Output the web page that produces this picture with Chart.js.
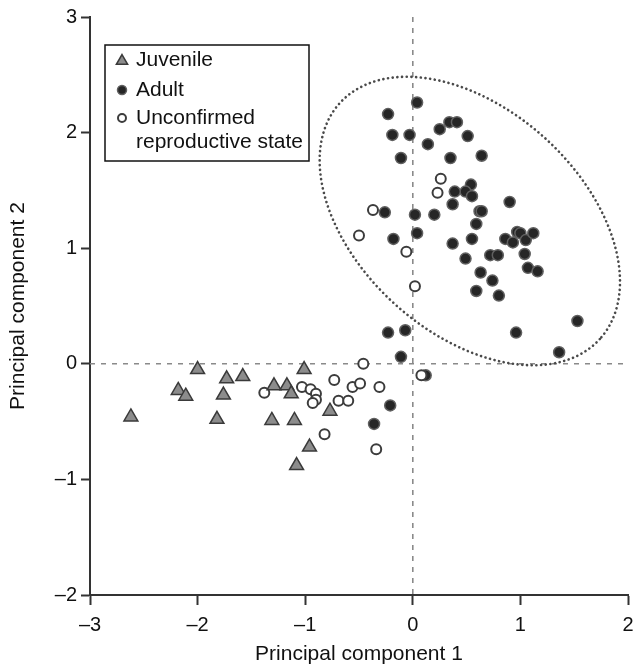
<!DOCTYPE html>
<html>
<head>
<meta charset="utf-8">
<script src="https://cdn.jsdelivr.net/npm/chart.js@4.4.1/dist/chart.umd.min.js"></script>
<style>
  html, body { margin: 0; padding: 0; background: #fff; }
  #wrap { width: 640px; height: 667px; }
</style>
</head>
<body>
<div id="wrap"><canvas id="pca-chart" width="640" height="667"></canvas></div>
<script>
(function () {
  'use strict';

  // scores, [PC1, PC2]
  const juvenilePoints = [
    [-2.62, -0.46], [-2.00, -0.05], [-2.18, -0.23], [-2.11, -0.28], [-1.73, -0.13],
    [-1.58, -0.11], [-1.76, -0.27], [-1.82, -0.48], [-1.29, -0.19], [-1.17, -0.19],
    [-1.13, -0.26], [-1.31, -0.49], [-1.10, -0.49], [-1.01, -0.05], [-0.77, -0.41],
    [-0.96, -0.72], [-1.08, -0.88]
  ];

  const adultPoints = [
    [0.04, 2.26], [-0.23, 2.16], [-0.19, 1.98], [-0.03, 1.98], [0.25, 2.03],
    [0.34, 2.09], [0.41, 2.09], [0.51, 1.97], [0.14, 1.90], [-0.11, 1.78],
    [0.35, 1.78], [0.64, 1.80], [0.54, 1.55], [0.49, 1.49], [0.55, 1.45],
    [0.39, 1.49], [0.37, 1.38], [0.90, 1.40], [-0.26, 1.31], [0.02, 1.29],
    [0.20, 1.29], [0.62, 1.32], [0.64, 1.32], [0.59, 1.21], [0.04, 1.13],
    [-0.18, 1.08], [0.37, 1.04], [0.55, 1.08], [0.86, 1.08], [0.93, 1.05],
    [0.97, 1.14], [1.00, 1.13], [1.05, 1.07], [1.12, 1.13], [1.04, 0.95],
    [0.49, 0.91], [0.72, 0.94], [0.79, 0.94], [1.07, 0.83], [1.16, 0.80],
    [0.63, 0.79], [0.74, 0.72], [0.59, 0.63], [0.80, 0.59], [0.96, 0.27],
    [1.53, 0.37], [1.36, 0.10], [-0.23, 0.27], [-0.07, 0.29], [-0.11, 0.06],
    [0.12, -0.10], [-0.21, -0.36], [-0.36, -0.52]
  ];

  const unconfirmedPoints = [
    [0.26, 1.60], [0.23, 1.48], [-0.37, 1.33], [-0.50, 1.11], [-0.06, 0.97],
    [0.02, 0.67], [-0.46, 0.00], [0.08, -0.10], [-1.38, -0.25], [-1.03, -0.20],
    [-0.95, -0.22], [-0.90, -0.26], [-0.90, -0.31], [-0.93, -0.34], [-0.73, -0.14],
    [-0.69, -0.32], [-0.60, -0.32], [-0.56, -0.20], [-0.49, -0.17], [-0.31, -0.20],
    [-0.82, -0.61], [-0.34, -0.74]
  ];

  const seriesNames = ['Juvenile', 'Adult', ['Unconfirmed', 'reproductive state']];
  const xTicks = [-3, -2, -1, 0, 1, 2];
  const yTicks = [-2, -1, 0, 1, 2, 3];

  // dotted ellipse round the adults: centre and two half-axis vectors, in data units
  const ellipseCenter = [0.53, 1.235];
  const ellipseU = [1.208, -1.021];
  const ellipseV = [-0.699, -0.717];

  const FONT = "'Liberation Sans', Arial, Helvetica, sans-serif";

  function toXY(list) {
    return list.map(function (p) { return { x: p[0], y: p[1] }; });
  }

  function dash(v) {
    return String(v).replace('-', '\u2013');
  }

  const styles = [
    { pointStyle: 'triangle', radius: 8, fill: '#8c8c8c', stroke: '#3a3a3a', width: 1.5 },
    { pointStyle: 'circle', radius: 5.5, fill: '#262626', stroke: '#606060', width: 1.5 },
    { pointStyle: 'circle', radius: 5, fill: '#ffffff', stroke: '#3c3c3c', width: 2 }
  ];

  const guidesPlugin = {
    id: 'guides',
    beforeDatasetsDraw: function (chart) {
      const ctx = chart.ctx;
      const area = chart.chartArea;
      const xs = chart.scales.x;
      const ys = chart.scales.y;
      const x0 = xs.getPixelForValue(0);
      const y0 = ys.getPixelForValue(0);

      ctx.save();
      ctx.strokeStyle = '#8a8a8a';
      ctx.lineWidth = 1.6;
      ctx.setLineDash([5, 6]);
      ctx.beginPath();
      ctx.moveTo(area.left, y0);
      ctx.lineTo(area.right, y0);
      ctx.moveTo(x0, area.top);
      ctx.lineTo(x0, area.bottom);
      ctx.stroke();

      // ellipse
      ctx.strokeStyle = '#4a4a4a';
      ctx.lineWidth = 2.6;
      ctx.lineCap = 'round';
      ctx.setLineDash([0.1, 4.6]);
      ctx.beginPath();
      for (let i = 0; i <= 360; i++) {
        const t = i * Math.PI / 180;
        const px = xs.getPixelForValue(ellipseCenter[0] + Math.cos(t) * ellipseU[0] + Math.sin(t) * ellipseV[0]);
        const py = ys.getPixelForValue(ellipseCenter[1] + Math.cos(t) * ellipseU[1] + Math.sin(t) * ellipseV[1]);
        if (i === 0) ctx.moveTo(px, py); else ctx.lineTo(px, py);
      }
      ctx.stroke();
      ctx.restore();
    }
  };

  function drawMarker(ctx, s, x, y, r) {
    ctx.beginPath();
    if (s.pointStyle === 'triangle') {
      for (let k = 0; k < 3; k++) {
        const a = k * 2 * Math.PI / 3;
        const px = x + Math.sin(a) * r;
        const py = y - Math.cos(a) * r;
        if (k === 0) ctx.moveTo(px, py); else ctx.lineTo(px, py);
      }
      ctx.closePath();
    } else {
      ctx.arc(x, y, r, 0, Math.PI * 2);
    }
    ctx.fillStyle = s.fill;
    ctx.fill();
    ctx.lineWidth = s.width;
    ctx.strokeStyle = s.stroke;
    ctx.stroke();
  }

  const legendPlugin = {
    id: 'boxLegend',
    afterDraw: function (chart) {
      const ctx = chart.ctx;
      const area = chart.chartArea;
      const left = area.left + 15;
      const top = area.top + 28;
      const rows = [15, 45, 73];
      const sizes = [6.5, 4.5, 4];

      ctx.save();
      ctx.fillStyle = '#fff';
      ctx.fillRect(left, top, 204, 116);
      ctx.lineWidth = 1.5;
      ctx.strokeStyle = '#111';
      ctx.strokeRect(left, top, 204, 116);

      ctx.font = '21px ' + FONT;
      ctx.textBaseline = 'middle';
      ctx.textAlign = 'left';
      for (let i = 0; i < seriesNames.length; i++) {
        drawMarker(ctx, styles[i], left + 17, top + rows[i] + (i === 0 ? 1 : 0), sizes[i]);
        ctx.fillStyle = '#111';
        const lines = [].concat(seriesNames[i]);
        for (let j = 0; j < lines.length; j++) {
          ctx.fillText(lines[j], left + 31, top + rows[i] + j * 24);
        }
      }
      ctx.restore();
    }
  };

  const allPoints = [juvenilePoints, adultPoints, unconfirmedPoints];
  const drawOrder = [0, 2, 1];

  const datasets = allPoints.map(function (pts, i) {
    const s = styles[i];
    return {
      label: [].concat(seriesNames[i]).join(' '),
      data: toXY(pts),
      pointStyle: s.pointStyle,
      pointRadius: s.radius,
      pointHoverRadius: s.radius,
      backgroundColor: s.fill,
      borderColor: s.stroke,
      borderWidth: s.width,
      order: drawOrder[i]
    };
  });

  const ctx = document.getElementById('pca-chart');

  new Chart(ctx, {
    type: 'scatter',
    data: { datasets: datasets },
    options: {
      responsive: false,
      animation: false,
      devicePixelRatio: 1,
      layout: { padding: { top: 17, right: 12, left: 0, bottom: 0 } },
      plugins: {
        legend: { display: false },
        tooltip: { enabled: false }
      },
      scales: {
        x: {
          type: 'linear',
          min: -3,
          max: 2,
          afterBuildTicks: function (scale) {
            scale.ticks = xTicks.map(function (v) { return { value: v }; });
          },
          afterFit: function (scale) {
            scale.height = 72;
            scale.paddingLeft = 0;
            scale.paddingRight = 0;
          },
          ticks: {
            color: '#111',
            font: { family: FONT, size: 20 },
            padding: 8,
            maxRotation: 0,
            callback: dash
          },
          grid: { drawOnChartArea: false, drawTicks: true, tickLength: 10, tickWidth: 2, tickColor: '#333' },
          border: { display: true, color: '#333', width: 2 },
          title: {
            display: true,
            text: 'Principal component 1',
            color: '#111',
            font: { family: FONT, size: 21 },
            padding: { top: 0, bottom: 0 }
          }
        },
        y: {
          type: 'linear',
          min: -2,
          max: 3,
          afterBuildTicks: function (scale) {
            scale.ticks = yTicks.map(function (v) { return { value: v }; });
          },
          afterFit: function (scale) {
            scale.width = 90;
            scale.paddingTop = 0;
            scale.paddingBottom = 0;
          },
          ticks: {
            color: '#111',
            font: { family: FONT, size: 20 },
            padding: 4,
            callback: dash
          },
          grid: { drawOnChartArea: false, drawTicks: true, tickLength: 9, tickWidth: 2, tickColor: '#333' },
          border: { display: true, color: '#333', width: 2 },
          title: {
            display: true,
            text: 'Principal component 2',
            color: '#111',
            font: { family: FONT, size: 21 },
            padding: { top: 6, bottom: 0 }
          }
        }
      }
    },
    plugins: [guidesPlugin, legendPlugin]
  });

})();
</script>
</body>
</html>
